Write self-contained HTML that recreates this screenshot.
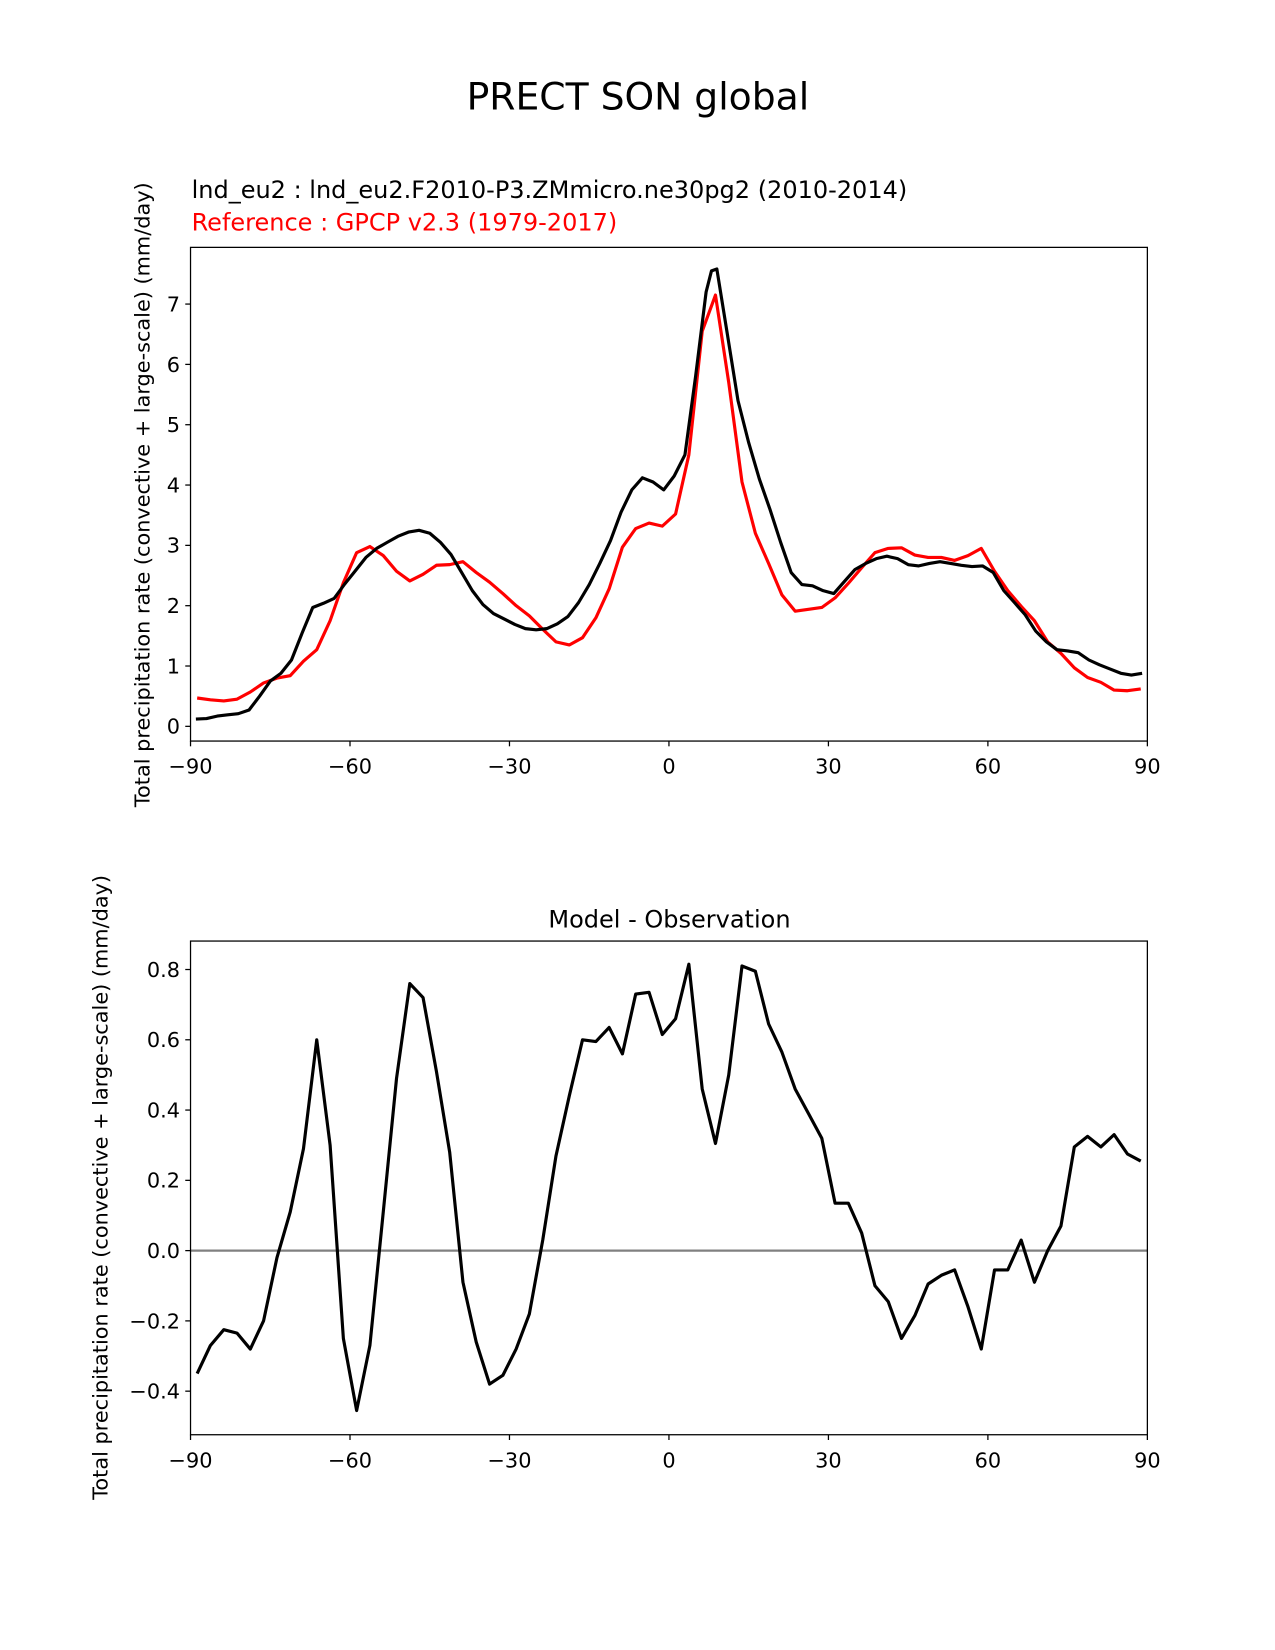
<!DOCTYPE html>
<html><head><meta charset="utf-8"><style>
html,body{margin:0;padding:0;background:#fff;width:1275px;height:1650px;overflow:hidden}
svg{display:block;font-family:"DejaVu Sans","Liberation Sans",sans-serif}
</style></head><body>
<svg id="fig" width="1275" height="1650" viewBox="0 0 1211.25 1567.5">
<rect width="1211.25" height="1567.5" fill="#fff"/>
<text x="606" y="104" font-size="35.8" text-anchor="middle">PRECT SON global</text>
<text x="182" y="188" font-size="22.8">lnd_eu2 : lnd_eu2.F2010-P3.ZMmicro.ne30pg2 (2010-2014)</text>
<text x="182" y="219" font-size="22.8" fill="#ff0000">Reference : GPCP v2.3 (1979-2017)</text>
<text transform="translate(142,470) rotate(-90)" font-size="19.8" text-anchor="middle">Total precipitation rate (convective + large-scale) (mm/day)</text>
<text x="636" y="881" font-size="22.8" text-anchor="middle">Model - Observation</text>
<text transform="translate(102,1128) rotate(-90)" font-size="19.8" text-anchor="middle">Total precipitation rate (convective + large-scale) (mm/day)</text>
<g id="top"></g>
<g id="bot"></g>
</svg>
<script>
const xTicks=[-90,-60,-30,0,30,60,90];
const topYTicks=[0,1,2,3,4,5,6,7];
const botYTicks=[-0.4,-0.2,0.0,0.2,0.4,0.6,0.8];
const refLat=[-88.75,-86.25,-83.75,-81.25,-78.75,-76.25,-73.75,-71.25,-68.75,-66.25,-63.75,-61.25,-58.75,-56.25,-53.75,-51.25,-48.75,-46.25,-43.75,-41.25,-38.75,-36.25,-33.75,-31.25,-28.75,-26.25,-23.75,-21.25,-18.75,-16.25,-13.75,-11.25,-8.75,-6.25,-3.75,-1.25,1.25,3.75,6.25,8.75,11.25,13.75,16.25,18.75,21.25,23.75,26.25,28.75,31.25,33.75,36.25,38.75,41.25,43.75,46.25,48.75,51.25,53.75,56.25,58.75,61.25,63.75,66.25,68.75,71.25,73.75,76.25,78.75,81.25,83.75,86.25,88.75];
const refVals=[0.47,0.44,0.42,0.45,0.57,0.72,0.80,0.84,1.08,1.27,1.75,2.38,2.88,2.98,2.83,2.57,2.41,2.52,2.67,2.68,2.73,2.55,2.39,2.20,2.00,1.83,1.61,1.40,1.35,1.47,1.80,2.28,2.97,3.28,3.37,3.32,3.52,4.50,6.55,7.15,5.70,4.05,3.20,2.70,2.18,1.91,1.94,1.97,2.13,2.37,2.63,2.88,2.95,2.96,2.84,2.80,2.80,2.75,2.83,2.95,2.57,2.25,1.99,1.75,1.40,1.21,0.97,0.81,0.73,0.60,0.59,0.62];
const modLat=[-89,-87,-85,-83,-81,-79,-77,-75,-73,-71,-69,-67,-65,-63,-61,-59,-57,-55,-53,-51,-49,-47,-45,-43,-41,-39,-37,-35,-33,-31,-29,-27,-25,-23,-21,-19,-17,-15,-13,-11,-9,-7,-5,-3,-1,1,3,5,7,8,9,11,13,15,17,19,21,23,25,27,29,31,33,35,37,39,41,43,45,47,49,51,53,55,57,59,61,63,65,67,69,71,73,75,77,79,81,83,85,87,89];
const modVals=[0.12,0.13,0.17,0.19,0.21,0.27,0.50,0.75,0.88,1.10,1.55,1.97,2.04,2.12,2.36,2.58,2.80,2.95,3.05,3.15,3.22,3.25,3.20,3.05,2.85,2.55,2.25,2.02,1.87,1.78,1.69,1.62,1.60,1.62,1.70,1.82,2.05,2.35,2.70,3.08,3.55,3.92,4.12,4.05,3.92,4.15,4.50,5.80,7.20,7.55,7.58,6.50,5.40,4.70,4.10,3.60,3.05,2.55,2.35,2.33,2.25,2.20,2.40,2.60,2.70,2.78,2.82,2.78,2.68,2.66,2.70,2.73,2.70,2.67,2.65,2.66,2.55,2.25,2.05,1.85,1.58,1.40,1.27,1.25,1.22,1.10,1.02,0.95,0.88,0.85,0.88];
const diffVals=[-0.35,-0.27,-0.225,-0.235,-0.28,-0.20,-0.02,0.11,0.29,0.60,0.30,-0.25,-0.455,-0.27,0.11,0.49,0.76,0.72,0.51,0.28,-0.09,-0.26,-0.38,-0.355,-0.28,-0.18,0.03,0.27,0.44,0.60,0.595,0.635,0.56,0.73,0.735,0.615,0.66,0.815,0.46,0.305,0.50,0.81,0.795,0.645,0.565,0.46,0.39,0.32,0.135,0.135,0.05,-0.10,-0.145,-0.25,-0.185,-0.095,-0.07,-0.055,-0.16,-0.28,-0.055,-0.055,0.03,-0.09,0.0,0.07,0.295,0.325,0.295,0.33,0.275,0.255];

const NS='http://www.w3.org/2000/svg';
function mk(tag,attrs,parent,txt){const e=document.createElementNS(NS,tag);for(const k in attrs)e.setAttribute(k,attrs[k]);if(txt!==undefined)e.textContent=txt;parent.appendChild(e);return e;}
const L=181,R=1090;
const xs=v=>L+(v+90)/180*(R-L);

function axes(g,top,bot,ymin,ymax,yTicks,fmt,prefix){
  const ys=v=>bot-(v-ymin)/(ymax-ymin)*(bot-top);
  xTicks.forEach(t=>{
    const x=xs(t);
    const tk=mk('line',{x1:x,x2:x,y1:bot,y2:bot+5,stroke:'#000','stroke-width':1.2},g);
    
    
    const lb=mk('text',{x:x,y:bot+31,'font-size':19.8,'text-anchor':'middle'},g,t<0?'\u2212'+(-t):String(t));
    
    
  });
  yTicks.forEach(t=>{
    const y=ys(t);
    const tk=mk('line',{x1:L-5,x2:L,y1:y,y2:y,stroke:'#000','stroke-width':1.2},g);
    
    
    const s=fmt(t);
    const lb=mk('text',{x:L-10,y:y+7,'font-size':19.8,'text-anchor':'end'},g,s.replace('-','\u2212'));
    
    
  });
  return ys;
}
function line(g,lat,vals,xsF,ys,color,w,name){
  const d=lat.map((a,i)=>(i?'L':'M')+xsF(a).toFixed(1)+','+ys(vals[i]).toFixed(1)).join(' ');
  const p=mk('path',{d:d,fill:'none',stroke:color,'stroke-width':w,'stroke-linejoin':'round'},g);
  
  
}
const gt=document.getElementById('top');
const tTop=235,tBot=704,tMin=-0.244,tMax=7.94;
const ysT=axes(gt,tTop,tBot,tMin,tMax,topYTicks,v=>String(v),'top-');
line(gt,refLat,refVals,xs,ysT,'#ff0000',3,'reference-series-line');
line(gt,modLat,modVals,xs,ysT,'#000',3,'model-series-line');
const fT=mk('rect',{x:L,y:tTop,width:R-L,height:tBot-tTop,fill:'none',stroke:'#000','stroke-width':1.2},gt);


const gb=document.getElementById('bot');
const bTop=894,bBot=1363,bMin=-0.524,bMax=0.881;
const ysB=axes(gb,bTop,bBot,bMin,bMax,botYTicks,v=>v.toFixed(1),'bottom-');
const z=mk('line',{x1:L,x2:R,y1:ysB(0),y2:ysB(0),stroke:'#808080','stroke-width':2.2},gb);


line(gb,refLat,diffVals,xs,ysB,'#000',3,'difference-series-line');
const fB=mk('rect',{x:L,y:bTop,width:R-L,height:bBot-bTop,fill:'none',stroke:'#000','stroke-width':1.2},gb);


</script>
</body></html>
